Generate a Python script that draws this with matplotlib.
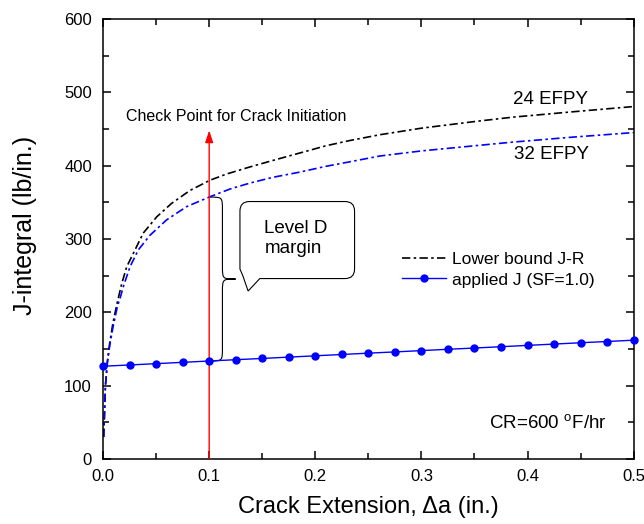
import numpy as np
import matplotlib.pyplot as plt
from matplotlib.path import Path
from matplotlib.patches import PathPatch
from matplotlib.ticker import MultipleLocator

plt.rcParams['font.family'] = ['Liberation Sans', 'DejaVu Sans']
plt.rcParams['mathtext.fontset'] = 'custom'
plt.rcParams['mathtext.rm'] = 'Liberation Sans'

# lower bound J-R curves
da_24 = [0.0006, 0.0016, 0.0022, 0.004, 0.0063, 0.0094, 0.0135, 0.0176, 0.0223,
         0.0301, 0.0379, 0.0505, 0.0646, 0.0818, 0.1007, 0.1164, 0.138, 0.16,
         0.185, 0.21, 0.232, 0.2606, 0.3, 0.35, 0.386, 0.44, 0.5]
j_24 = [30, 71, 99, 132, 158, 186, 214, 239, 262,
        285, 308, 330, 348.5, 366, 380, 388.5, 398, 407,
        417, 427, 434, 442, 451, 460, 466, 473, 480.5]
da_32 = [0.0006, 0.0016, 0.0022, 0.004, 0.0063, 0.0094, 0.0135, 0.0166, 0.0191,
         0.0254, 0.0332, 0.0442, 0.0599, 0.0787, 0.1007, 0.1195, 0.138, 0.16,
         0.185, 0.21, 0.232, 0.2606, 0.3, 0.35, 0.386, 0.44, 0.5]
j_32 = [30, 71, 98.5, 130, 155, 180, 208, 222, 235,
        262, 285, 305, 326, 344, 357.5, 368, 376, 384,
        391, 399, 405, 413, 420, 427, 432, 438.5, 445]

# applied J, SF=1.0
da_app = [0.0, 0.025, 0.05, 0.075, 0.1, 0.125, 0.15, 0.175, 0.2, 0.225, 0.25,
          0.275, 0.3, 0.325, 0.35, 0.375, 0.4, 0.425, 0.45, 0.475, 0.5]
j_app = [126.5, 128.2, 130.0, 131.8, 133.6, 135.4, 137.1, 138.9, 140.7, 142.5, 144.3,
         146.0, 147.8, 149.6, 151.3, 153.1, 154.9, 156.7, 158.5, 160.2, 162.0]

check_da = 0.1
dashdot = (0, (5, 2, 1.5, 2))


def brace(x0, yt, yb, w, r):
    # right-pointing curly brace between yt and yb
    a = x0 + 0.5 * w
    ym = 0.5 * (yt + yb)
    verts = [(x0, yt), (a, yt), (a, yt), (a, yt - r),
             (a, ym + r),
             (a, ym), (a, ym), (x0 + w, ym),
             (a, ym), (a, ym), (a, ym - r),
             (a, yb + r),
             (a, yb), (a, yb), (x0, yb)]
    codes = [Path.MOVETO, Path.CURVE4, Path.CURVE4, Path.CURVE4,
             Path.LINETO,
             Path.CURVE4, Path.CURVE4, Path.CURVE4,
             Path.CURVE4, Path.CURVE4, Path.CURVE4,
             Path.LINETO,
             Path.CURVE4, Path.CURVE4, Path.CURVE4]
    return Path(verts, codes)


def bubble(x0, x1, y0, y1, rx, ry, tail_r, tip):
    verts = [(x0 + rx, y1), (x1 - rx, y1), (x1, y1), (x1, y1 - ry),
             (x1, y0 + ry), (x1, y0), (x1 - rx, y0),
             (tail_r, y0), tip, (x0 + 0.3 * rx, y0 + 0.3 * ry),
             (x0, y0 + ry), (x0, y1 - ry), (x0, y1), (x0 + rx, y1), (x0 + rx, y1)]
    codes = [Path.MOVETO, Path.LINETO, Path.CURVE3, Path.CURVE3,
             Path.LINETO, Path.CURVE3, Path.CURVE3,
             Path.LINETO, Path.LINETO, Path.LINETO,
             Path.LINETO, Path.LINETO, Path.CURVE3, Path.CURVE3, Path.CLOSEPOLY]
    return Path(verts, codes)


fig = plt.figure(figsize=(6.44, 5.24), dpi=100)
ax = fig.add_axes([0.16, 0.124, 0.824, 0.840])

ax.plot(da_24, j_24, color='black', lw=1.2, linestyle=dashdot, label='Lower bound J-R')
ax.plot(da_32, j_32, color='#0000ff', lw=1.2, linestyle=dashdot)
ax.plot(da_app, j_app, color='#0000ff', lw=1.0, marker='o', markersize=5,
        label='applied J (SF=1.0)', clip_on=False, zorder=4)

# check point arrow
ax.annotate('', xy=(check_da, 448), xytext=(check_da, 0),
            arrowprops=dict(arrowstyle='-|>,head_length=0.6,head_width=0.2',
                            color='red', lw=1.0, mutation_scale=12, shrinkA=0, shrinkB=0))
ax.text(0.125, 467, 'Check Point for Crack Initiation', fontsize=11.5,
        ha='center', va='center')

# level D margin brace and callout
y_top = np.interp(check_da, da_32, j_32)
y_bot = np.interp(check_da, da_app, j_app)
ax.add_patch(PathPatch(brace(check_da, y_top, y_bot, 0.025, 18),
                       facecolor='none', edgecolor='black', lw=0.8))
ax.add_patch(PathPatch(bubble(0.129, 0.237, 246, 351, 0.009, 13, 0.1477, (0.1367, 229)),
                       facecolor='white', edgecolor='black', lw=0.8, zorder=3))
ax.text(0.152, 300.5, 'Level D\nmargin', fontsize=13.5, ha='left', va='center',
        linespacing=1.2, zorder=5)

ax.text(0.422, 490.5, '24 EFPY', fontsize=13.5, ha='center', va='center')
ax.text(0.423, 415.5, '32 EFPY', fontsize=13.5, ha='center', va='center')
ax.text(0.419, 48.5, r'CR=600 $^{\rm o}$F/hr', fontsize=13.5, ha='center', va='center')

ax.legend(loc='center left', bbox_to_anchor=(0.563, 0.43), frameon=False,
          fontsize=12.5, borderpad=0, borderaxespad=0, handlelength=2.55,
          handletextpad=0.35, labelspacing=0.3)

ax.set_xlim(0, 0.5)
ax.set_ylim(0, 600)
ax.xaxis.set_major_locator(MultipleLocator(0.1))
ax.xaxis.set_minor_locator(MultipleLocator(0.05))
ax.yaxis.set_major_locator(MultipleLocator(100))
ax.yaxis.set_minor_locator(MultipleLocator(50))
ax.xaxis.set_major_formatter(plt.FormatStrFormatter('%.1f'))
ax.tick_params(which='both', direction='in', top=True, right=True, width=1.1, labelsize=12)
ax.tick_params(which='major', length=6)
ax.tick_params(which='minor', length=4)
ax.tick_params(axis='y', pad=8)
ax.tick_params(axis='x', pad=7)
for s in ax.spines.values():
    s.set_linewidth(1.1)

ax.set_xlabel('Crack Extension, \u0394a (in.)', fontsize=17)
ax.set_ylabel('J-integral (lb/in.)', fontsize=18)
ax.xaxis.set_label_coords(0.5, -0.083)
ax.yaxis.set_label_coords(-0.124, 0.53)

fig.savefig('out.png', dpi=100)
